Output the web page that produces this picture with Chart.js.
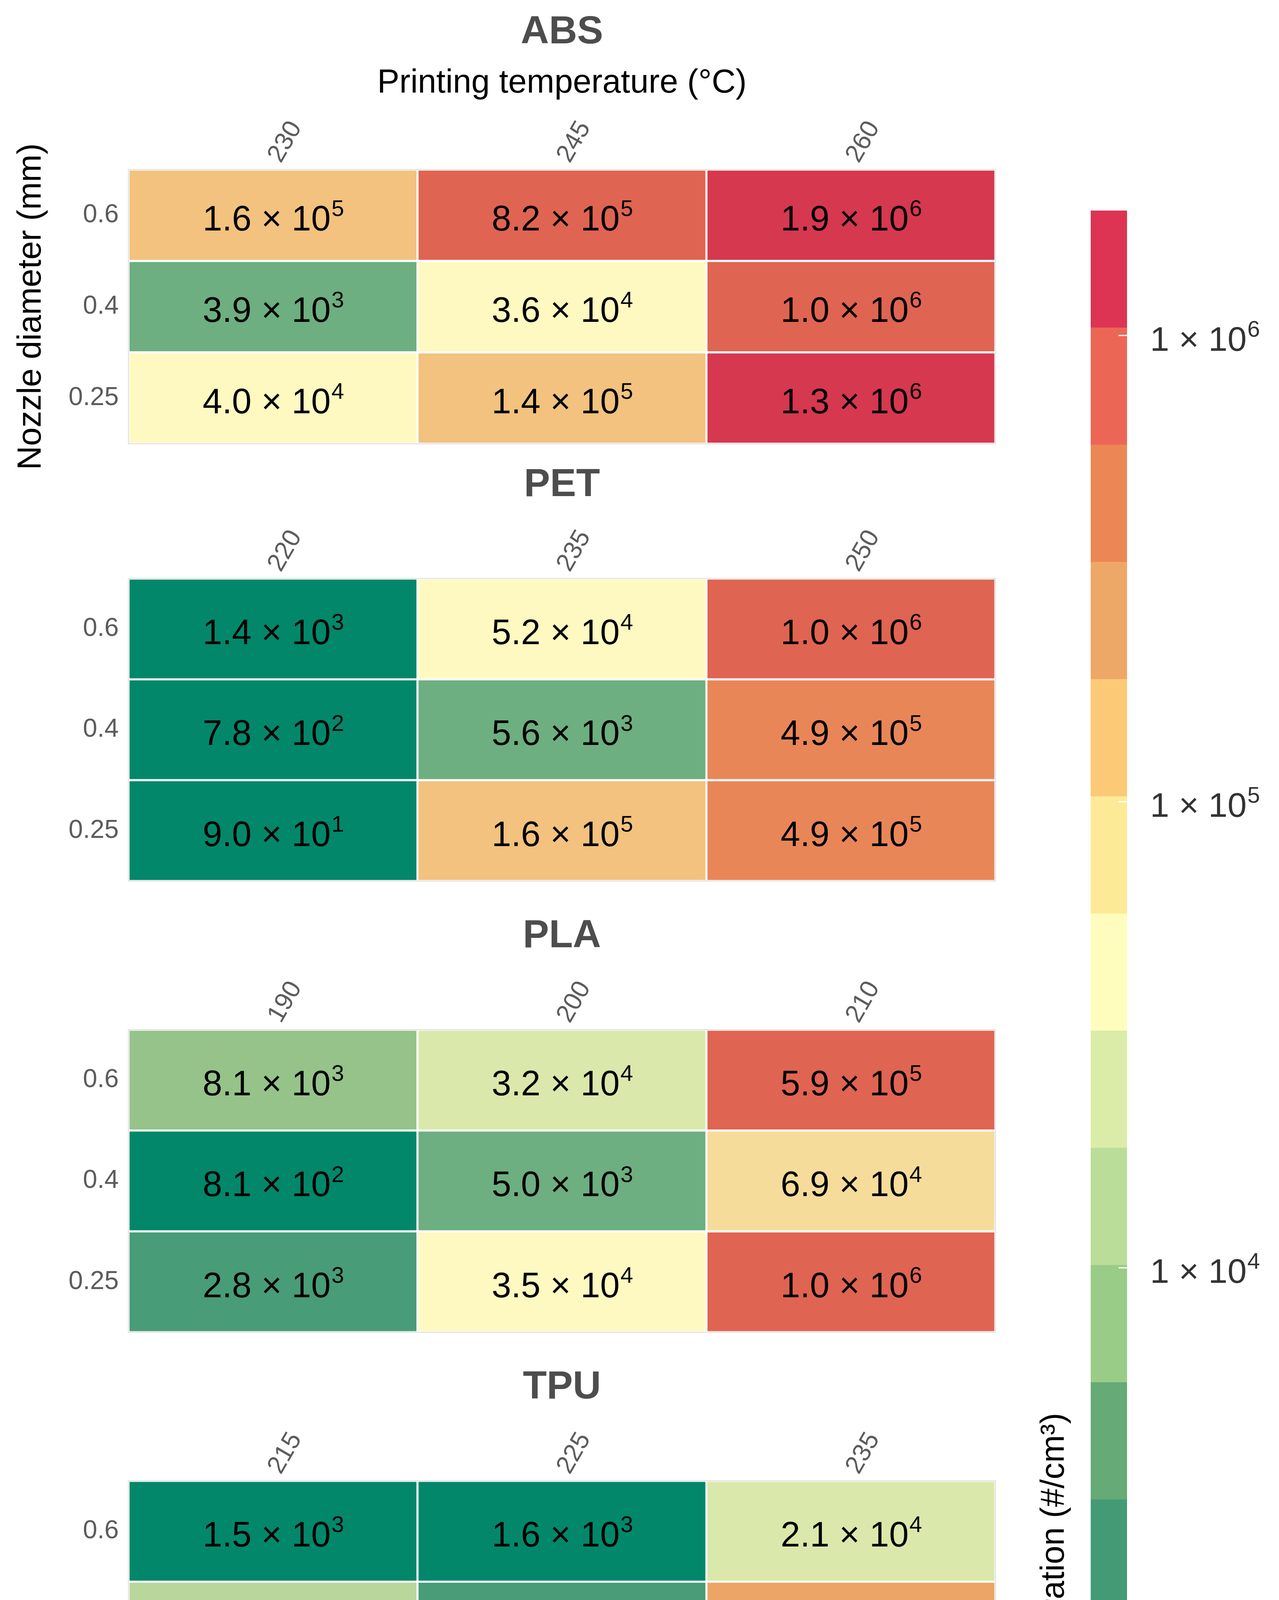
<!DOCTYPE html>
<html>
<head>
<meta charset="utf-8">
<script src="https://cdn.jsdelivr.net/npm/chart.js@4.4.1/dist/chart.umd.min.js"></script>
<style>
  html, body { margin: 0; padding: 0; background: #fff; }
  #page { position: relative; width: 3274px; height: 4673px; background: #fff; }
  canvas { position: absolute; }
</style>
</head>
<body>
<div id="page">
  <canvas id="abs" width="2600" height="1220" style="left:0;top:0"></canvas>
  <canvas id="pet" width="2600" height="1160" style="left:0;top:1160px"></canvas>
  <canvas id="pla" width="2600" height="1160" style="left:0;top:2315px"></canvas>
  <canvas id="tpu" width="2600" height="1160" style="left:0;top:3470px"></canvas>
  <canvas id="legend" width="674" height="4673" style="left:2600px;top:0"></canvas>
</div>
<script>
const FONT = '"Liberation Sans", Arial, Helvetica, sans-serif';
Chart.defaults.font.family = FONT;

// rows (top to bottom) and printing temperatures per material
const nozzleDiameters = ['0.6', '0.4', '0.25'];
const absTemps = ['230', '245', '260'];
const petTemps = ['220', '235', '250'];
const plaTemps = ['190', '200', '210'];
const tpuTemps = ['215', '225', '235'];

// particle concentration (#/cm3), one row per nozzle diameter
const absValues = [
  [1.6e5, 8.2e5, 1.9e6],
  [3.9e3, 3.6e4, 1.0e6],
  [4.0e4, 1.4e5, 1.3e6]
];
const petValues = [
  [1.4e3, 5.2e4, 1.0e6],
  [7.8e2, 5.6e3, 4.9e5],
  [9.0e1, 1.6e5, 4.9e5]
];
const plaValues = [
  [8.1e3, 3.2e4, 5.9e5],
  [8.1e2, 5.0e3, 6.9e4],
  [2.8e3, 3.5e4, 1.0e6]
];
const tpuValues = [
  [1.5e3, 1.6e3, 2.1e4],
  [1.2e4, 2.1e3, 2.7e5],
  [6.4e3, 2.8e4, 6.4e5]
];

// binned colour scale (legend breaks, bottom to top)
const legendBreaks = [1000, 1784, 3183, 5678, 10130, 18072, 32241, 57516,
  102611, 183070, 326590, 582640, 1039400, 1853500];
const legendTicks = [1e3, 1e4, 1e5, 1e6];
const legendColors = ['#008866', '#459a76', '#66aa77', '#99cc86', '#badd99', '#dbeba8',
  '#fefdbe', '#fdea97', '#fcc977', '#eda867', '#ec8755', '#ec6656', '#dc3452'];
const cellColors = ['#02876a', '#489c78', '#6daf80', '#95c38a', '#b9d69b', '#dae8ab',
  '#fef9c0', '#f6dc9b', '#f2c27e', '#eda567', '#e98658', '#e06452', '#d6384f'];

function colorFor(v) {
  let k = 0;
  while (k < cellColors.length - 1 && v >= legendBreaks[k + 1]) k++;
  return cellColors[k];
}

// "m × 10^e" with a raised exponent, centred vertically on cy
function drawPower(ctx, base, exp, x, cy, size, supSize, color, align) {
  const raise = size * 0.41;
  const baseline = cy + (raise + supSize * 0.716) / 2;
  ctx.save();
  ctx.fillStyle = color;
  ctx.textBaseline = 'alphabetic';
  ctx.textAlign = 'left';
  ctx.font = size + 'px ' + FONT;
  const w1 = ctx.measureText(base).width;
  ctx.font = supSize + 'px ' + FONT;
  const w2 = ctx.measureText(exp).width;
  const x0 = align === 'center' ? x - (w1 + w2) / 2 : x;
  ctx.font = size + 'px ' + FONT;
  ctx.fillText(base, x0, baseline);
  ctx.font = supSize + 'px ' + FONT;
  ctx.fillText(exp, x0 + w1 + 2, baseline - raise);
  ctx.restore();
}

function panel(id, title, temps, values, withHeader) {
  const datasets = values.map((row, r) => ({
    data: temps.map(() => [r, r + 1]),
    backgroundColor: row.map(colorFor),
    borderColor: '#ffffff',
    borderWidth: 3,
    borderSkipped: false,
    grouped: false,
    barPercentage: 1,
    categoryPercentage: 1
  }));

  const cellLabels = {
    id: 'cellLabels',
    afterDatasetsDraw(chart) {
      const { ctx, chartArea, scales } = chart;
      values.forEach((row, r) => {
        row.forEach((v, c) => {
          const e = Math.floor(Math.log10(v) + 1e-9);
          const m = (v / Math.pow(10, e)).toFixed(1);
          const cx = scales.x.getPixelForValue(c);
          const cy = scales.y.getPixelForValue(r + 0.5);
          drawPower(ctx, m + ' \u00d7 10', String(e), cx, cy, 90, 58, '#000', 'center');
        });
      });
      ctx.save();
      ctx.strokeStyle = '#e3e3e3';
      ctx.lineWidth = 3;
      ctx.strokeRect(chartArea.left, chartArea.top, chartArea.right - chartArea.left,
        chartArea.bottom - chartArea.top);
      ctx.restore();
    }
  };

  return new Chart(document.getElementById(id), {
    type: 'bar',
    data: { labels: temps, datasets },
    options: {
      responsive: false,
      animation: false,
      devicePixelRatio: 1,
      layout: {
        autoPadding: false,
        padding: { left: 0, right: 52, top: 0, bottom: withHeader ? 84 : 28 }
      },
      plugins: {
        legend: { display: false },
        tooltip: { enabled: false },
        title: {
          display: true,
          text: title,
          fullSize: false,
          color: '#4d4d4d',
          font: { size: 100, weight: 'bold' },
          padding: withHeader ? { top: 23, bottom: 0 } : { top: 22, bottom: 29 }
        },
        subtitle: {
          display: withHeader,
          text: 'Printing temperature (°C)',
          fullSize: false,
          color: '#000',
          font: { size: 85 },
          padding: { top: 20, bottom: 19 }
        }
      },
      scales: {
        x: {
          position: 'top',
          grid: { display: false },
          border: { display: false },
          ticks: {
            color: '#5c5c5c',
            font: { size: 65 },
            minRotation: 60,
            maxRotation: 60,
            padding: -4,
            labelOffset: 72
          },
          afterFit: s => { s.height = 150; }
        },
        y: {
          type: 'linear',
          min: 0,
          max: 3,
          reverse: true,
          grid: { display: false, drawTicks: false },
          border: { display: false },
          afterBuildTicks: s => { s.ticks = nozzleDiameters.map((_, i) => ({ value: i + 0.5 })); },
          ticks: {
            color: '#5c5c5c',
            font: { size: 66 },
            padding: 25,
            callback: v => nozzleDiameters[Math.floor(v)]
          },
          title: {
            display: withHeader,
            text: 'Nozzle diameter (mm)',
            color: '#000',
            font: { size: 85 },
            padding: { top: 30, bottom: 0 }
          },
          afterFit: s => { s.width = 329; }
        }
      }
    },
    plugins: [cellLabels]
  });
}

panel('abs', 'ABS', absTemps, absValues, true);
panel('pet', 'PET', petTemps, petValues, false);
panel('pla', 'PLA', plaTemps, plaValues, false);
panel('tpu', 'TPU', tpuTemps, tpuValues, false);

// colour bar
const legendLabels = {
  id: 'legendLabels',
  afterDatasetsDraw(chart) {
    const { ctx, chartArea, scales } = chart;
    legendTicks.forEach(t => {
      const y = scales.y.getPixelForValue(t);
      ctx.save();
      ctx.strokeStyle = '#ffffff';
      ctx.lineWidth = 3;
      ctx.beginPath();
      ctx.moveTo(chartArea.right - 22, y);
      ctx.lineTo(chartArea.right, y);
      ctx.stroke();
      ctx.restore();
      drawPower(ctx, '1 \u00d7 10', String(Math.round(Math.log10(t))),
        chartArea.right + 59, y, 88, 58, '#333', 'left');
    });
  }
};

new Chart(document.getElementById('legend'), {
  type: 'bar',
  data: {
    labels: [''],
    datasets: legendColors.map((c, k) => ({
      data: [[legendBreaks[k], legendBreaks[k + 1]]],
      backgroundColor: c,
      borderWidth: 0,
      grouped: false,
      barPercentage: 1,
      categoryPercentage: 1
    }))
  },
  options: {
    responsive: false,
    animation: false,
    devicePixelRatio: 1,
    layout: { autoPadding: false, padding: { left: 0, right: 389, top: 539, bottom: 234 } },
    plugins: { legend: { display: false }, tooltip: { enabled: false } },
    scales: {
      x: { display: false },
      y: {
        type: 'logarithmic',
        position: 'left',
        min: legendBreaks[0],
        max: legendBreaks[legendBreaks.length - 1],
        grid: { display: false },
        border: { display: false },
        ticks: { display: false },
        title: {
          display: true,
          text: 'Concentration (#/cm³)',
          align: 'start',
          color: '#000',
          font: { size: 85 },
          padding: { top: 49, bottom: 0 }
        },
        afterFit: s => { s.width = 192; }
      }
    }
  },
  plugins: [legendLabels]
});
</script>
</body>
</html>
